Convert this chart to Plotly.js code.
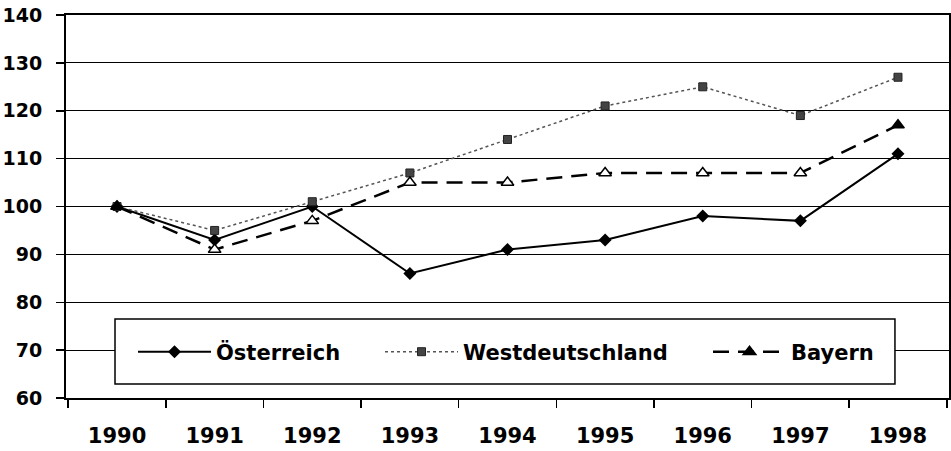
<!DOCTYPE html>
<html>
<head>
<meta charset="utf-8">
<script src="https://cdn.plot.ly/plotly-3.0.1.min.js"></script>
<style>html,body{margin:0;padding:0;background:#fff;}#chart{width:951px;height:451px;}</style>
</head>
<body>
<div id="chart"></div>
<script>
var years = ['1990','1991','1992','1993','1994','1995','1996','1997','1998'];
var oesterreich = [100, 93, 100, 86, 91, 93, 98, 97, 111];
var westdeutschland = [100, 95, 101, 107, 114, 121, 125, 119, 127];
var bayern = [100, 91, 97, 105, 105, 107, 107, 107, 117];
var yTicks = [60, 70, 80, 90, 100, 110, 120, 130, 140];

var bayernFill = bayern.map(function(v, i){ return (i === 0 || i === bayern.length - 1) ? 'black' : 'white'; });

var traces = [
  {x: years, y: oesterreich, name: 'Österreich', type: 'scatter', mode: 'lines+markers',
   line: {color: 'black', width: 2}, marker: {symbol: 'diamond', size: 10, color: 'black'}, legendwidth: 159},
  {x: years, y: westdeutschland, name: 'Westdeutschland', type: 'scatter', mode: 'lines+markers',
   line: {color: '#555', width: 1.5, dash: 'dot'}, marker: {symbol: 'square', size: 8, color: '#444', line: {color: '#222', width: 1}}, legendwidth: 240},
  {x: years, y: bayern, name: 'Bayern', type: 'scatter', mode: 'lines+markers',
   line: {color: 'black', width: 2.5, dash: '16px,9px'}, marker: {symbol: 'triangle-up', size: 11, color: bayernFill, line: {color: 'black', width: 1.5}}}
];

var fontFam = 'DejaVu Sans, Arial, sans-serif';
var layout = {
  width: 951, height: 451,
  margin: {l: 66, r: 2, t: 15, b: 53},
  paper_bgcolor: 'white', plot_bgcolor: 'white',
  showlegend: true,
  legend: {orientation: 'h', x: 0.0759, xanchor: 'left', y: 0.12, yanchor: 'middle',
           bgcolor: 'rgba(0,0,0,0)', borderwidth: 0, itemwidth: 73,
           font: {family: fontFam, size: 21, color: 'black', weight: 'bold'}},
  xaxis: {type: 'category', tickson: 'boundaries', ticks: 'outside', ticklen: 8, tickcolor: 'black', tickwidth: 1.5,
          showline: true, linecolor: 'black', linewidth: 2, mirror: true, showgrid: false,
          ticklabelstandoff: 18,
          tickfont: {family: fontFam, size: 21, color: 'black', weight: 'bold'}},
  yaxis: {range: [60, 140], tickvals: yTicks, ticks: 'outside', ticklen: 8, tickcolor: 'black', tickwidth: 1.5,
          showline: true, linecolor: 'black', linewidth: 2, mirror: true,
          showgrid: true, gridcolor: 'black', gridwidth: 1.2, zeroline: false,
          ticklabelstandoff: 10,
          tickfont: {family: fontFam, size: 19, color: 'black', weight: 'bold'}},
  shapes: [{type: 'rect', xref: 'paper', yref: 'paper', x0: 0.0555, x1: 0.9388, y0: 0.0366, y1: 0.2063,
            fillcolor: 'white', line: {color: 'black', width: 1.5}, layer: 'above'}]
};

Plotly.newPlot('chart', traces, layout, {displayModeBar: false, staticPlot: true});
</script>
</body>
</html>
